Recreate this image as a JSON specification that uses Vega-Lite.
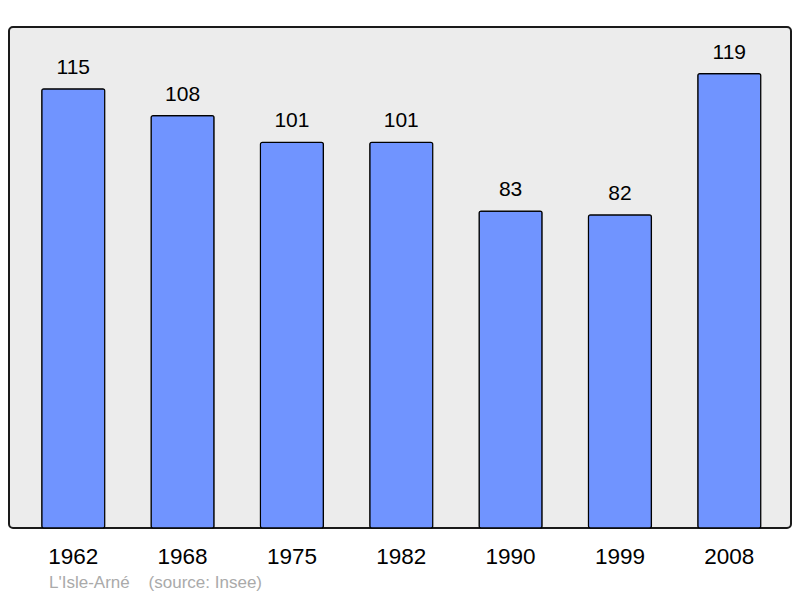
{
  "$schema": "https://vega.github.io/schema/vega-lite/v6.json",
  "autosize": "none",
  "width": 782,
  "height": 501,
  "padding": {"left": 9, "top": 27, "right": 9, "bottom": 70},
  "background": "#ffffff",
  "config": {
    "view": {"fill": "#ececec", "stroke": "#1a1a1a", "strokeWidth": 2, "cornerRadius": 4},
    "font": "Liberation Sans"
  },
  "title": {
    "text": "L'Isle-Arné\u00a0\u00a0\u00a0\u00a0(source: Insee)",
    "orient": "bottom",
    "anchor": "start",
    "frame": "group",
    "dx": 40,
    "offset": 7,
    "fontSize": 17,
    "fontWeight": "normal",
    "color": "#aaaaaa",
    "font": "Liberation Sans"
  },
  "data": {
    "values": [
      {"year": "1962", "pop": 115},
      {"year": "1968", "pop": 108},
      {"year": "1975", "pop": 101},
      {"year": "1982", "pop": 101},
      {"year": "1990", "pop": 83},
      {"year": "1999", "pop": 82},
      {"year": "2008", "pop": 119}
    ]
  },
  "encoding": {
    "x": {
      "field": "year",
      "type": "nominal",
      "sort": null,
      "scale": {"paddingInner": 0.424, "paddingOuter": 0.288, "align": 0.52},
      "axis": {
        "title": null,
        "domain": false,
        "ticks": false,
        "labelAngle": 0,
        "labelFontSize": 22.5,
        "labelColor": "#000000",
        "labelPadding": 17,
        "labelBaseline": "top",
        "labelFont": "Liberation Sans"
      }
    },
    "y": {
      "field": "pop",
      "type": "quantitative",
      "scale": {"domain": [0, 131.2], "nice": false, "zero": true},
      "axis": null
    }
  },
  "layer": [
    {
      "mark": {"type": "bar", "fill": "#7094ff", "stroke": "#000000", "strokeWidth": 1.2, "cornerRadius": 2}
    },
    {
      "mark": {"type": "text", "baseline": "alphabetic", "dy": -15, "fontSize": 21, "color": "#000000", "font": "Liberation Sans"},
      "encoding": {"text": {"field": "pop", "type": "quantitative"}}
    }
  ]
}
